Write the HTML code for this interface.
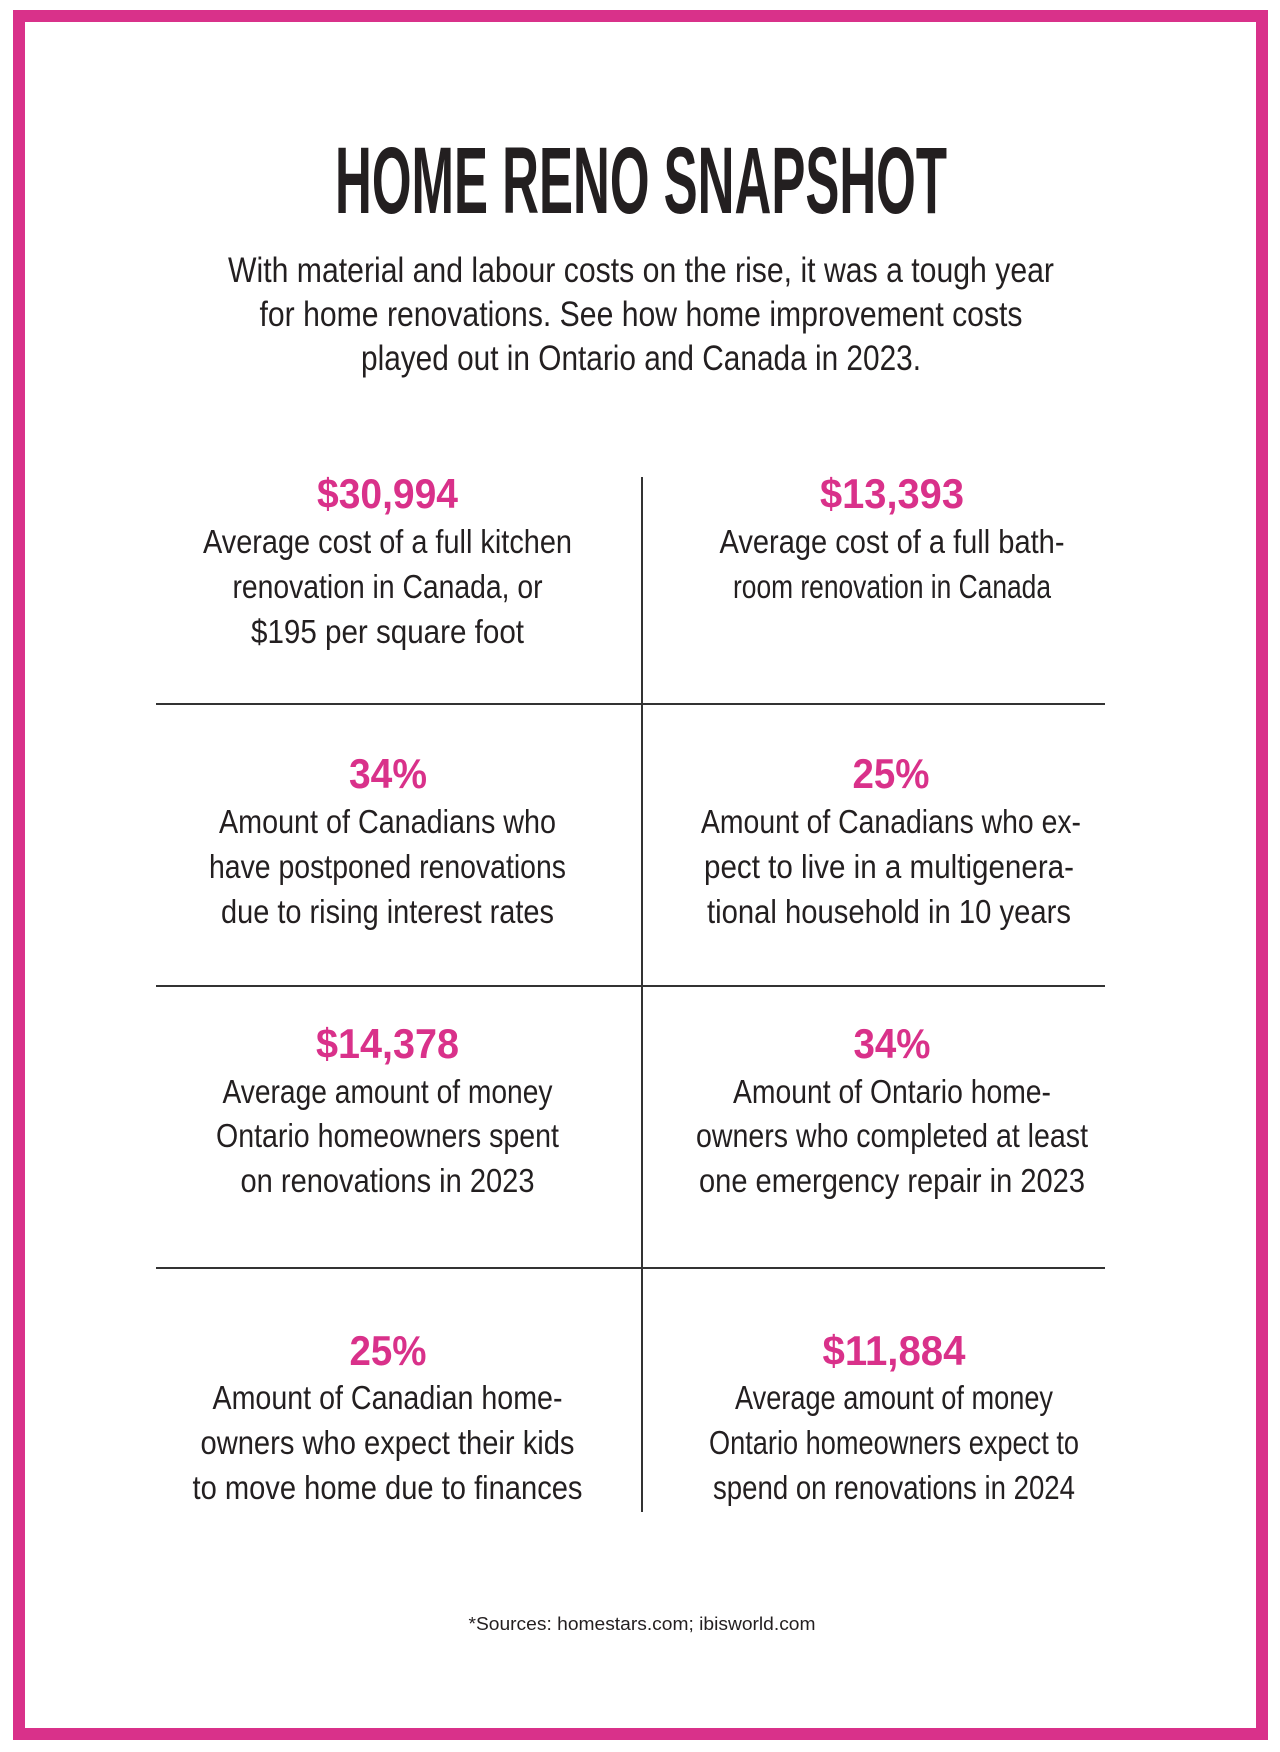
<!DOCTYPE html>
<html>
<head>
<meta charset="utf-8">
<style>
  html, body { margin: 0; padding: 0; background: #ffffff; }
  body { width: 1280px; height: 1752px; overflow: hidden; }
  svg { display: block; }
  .t { font-family: "Liberation Sans Narrow", "Liberation Sans", sans-serif; fill: #231f20; }
  .title { font-weight: bold; font-size: 95px; }
  .sub { font-size: 35px; }
  .val { font-weight: bold; font-size: 42px; fill: #d9318a; }
  .d { font-size: 33px; }
  .src { font-size: 18px; }
</style>
</head>
<body>
<svg width="1280" height="1752" viewBox="0 0 1280 1752" xmlns="http://www.w3.org/2000/svg">
  <rect x="0" y="0" width="1280" height="1752" fill="#ffffff"/>
  <!-- border -->
  <rect x="19" y="16" width="1243" height="1718" fill="none" stroke="#d9318a" stroke-width="12"/>

  <!-- title -->
  <text class="t title" x="641" y="213" text-anchor="middle" textLength="612" lengthAdjust="spacingAndGlyphs">HOME RENO SNAPSHOT</text>

  <!-- subtitle -->
  <text class="t sub" x="641" y="282" text-anchor="middle" textLength="826" lengthAdjust="spacingAndGlyphs">With material and labour costs on the rise, it was a tough year</text>
  <text class="t sub" x="641" y="326" text-anchor="middle" textLength="763" lengthAdjust="spacingAndGlyphs">for home renovations. See how home improvement costs</text>
  <text class="t sub" x="641" y="370" text-anchor="middle" textLength="560" lengthAdjust="spacingAndGlyphs">played out in Ontario and Canada in 2023.</text>

  <!-- grid lines -->
  <line x1="642" y1="477" x2="642" y2="1512" stroke="#333333" stroke-width="2"/>
  <line x1="156" y1="704" x2="1105" y2="704" stroke="#333333" stroke-width="2"/>
  <line x1="156" y1="986" x2="1105" y2="986" stroke="#333333" stroke-width="2"/>
  <line x1="156" y1="1268" x2="1105" y2="1268" stroke="#333333" stroke-width="2"/>

  <!-- Row 1 left -->
  <text class="t val" x="387.5" y="508" text-anchor="middle" textLength="141" lengthAdjust="spacingAndGlyphs">$30,994</text>
  <text class="t d" x="387.5" y="553" text-anchor="middle" textLength="369" lengthAdjust="spacingAndGlyphs">Average cost of a full kitchen</text>
  <text class="t d" x="387.5" y="598" text-anchor="middle" textLength="310" lengthAdjust="spacingAndGlyphs">renovation in Canada, or</text>
  <text class="t d" x="387.5" y="643" text-anchor="middle" textLength="273" lengthAdjust="spacingAndGlyphs">$195 per square foot</text>

  <!-- Row 1 right -->
  <text class="t val" x="892" y="508" text-anchor="middle" textLength="144" lengthAdjust="spacingAndGlyphs">$13,393</text>
  <text class="t d" x="892" y="553" text-anchor="middle" textLength="345" lengthAdjust="spacingAndGlyphs">Average cost of a full bath-</text>
  <text class="t d" x="892" y="598" text-anchor="middle" textLength="318" lengthAdjust="spacingAndGlyphs">room renovation in Canada</text>

  <!-- Row 2 left -->
  <text class="t val" x="388" y="788" text-anchor="middle" textLength="78" lengthAdjust="spacingAndGlyphs">34%</text>
  <text class="t d" x="387.5" y="833" text-anchor="middle" textLength="337" lengthAdjust="spacingAndGlyphs">Amount of Canadians who</text>
  <text class="t d" x="387.5" y="878" text-anchor="middle" textLength="357" lengthAdjust="spacingAndGlyphs">have postponed renovations</text>
  <text class="t d" x="387.5" y="923" text-anchor="middle" textLength="333" lengthAdjust="spacingAndGlyphs">due to rising interest rates</text>

  <!-- Row 2 right -->
  <text class="t val" x="891" y="788" text-anchor="middle" textLength="77" lengthAdjust="spacingAndGlyphs">25%</text>
  <text class="t d" x="891" y="833" text-anchor="middle" textLength="380" lengthAdjust="spacingAndGlyphs">Amount of Canadians who ex-</text>
  <text class="t d" x="889" y="878" text-anchor="middle" textLength="370" lengthAdjust="spacingAndGlyphs">pect to live in a multigenera-</text>
  <text class="t d" x="889" y="923" text-anchor="middle" textLength="364" lengthAdjust="spacingAndGlyphs">tional household in 10 years</text>

  <!-- Row 3 left -->
  <text class="t val" x="387.5" y="1058" text-anchor="middle" textLength="143" lengthAdjust="spacingAndGlyphs">$14,378</text>
  <text class="t d" x="387.5" y="1103" text-anchor="middle" textLength="330" lengthAdjust="spacingAndGlyphs">Average amount of money</text>
  <text class="t d" x="387.5" y="1147" text-anchor="middle" textLength="343" lengthAdjust="spacingAndGlyphs">Ontario homeowners spent</text>
  <text class="t d" x="387.5" y="1192" text-anchor="middle" textLength="294" lengthAdjust="spacingAndGlyphs">on renovations in 2023</text>

  <!-- Row 3 right -->
  <text class="t val" x="892" y="1058" text-anchor="middle" textLength="77" lengthAdjust="spacingAndGlyphs">34%</text>
  <text class="t d" x="892" y="1103" text-anchor="middle" textLength="318" lengthAdjust="spacingAndGlyphs">Amount of Ontario home-</text>
  <text class="t d" x="892" y="1147" text-anchor="middle" textLength="392" lengthAdjust="spacingAndGlyphs">owners who completed at least</text>
  <text class="t d" x="892" y="1192" text-anchor="middle" textLength="386" lengthAdjust="spacingAndGlyphs">one emergency repair in 2023</text>

  <!-- Row 4 left -->
  <text class="t val" x="388" y="1365" text-anchor="middle" textLength="77" lengthAdjust="spacingAndGlyphs">25%</text>
  <text class="t d" x="387.5" y="1409" text-anchor="middle" textLength="350" lengthAdjust="spacingAndGlyphs">Amount of Canadian home-</text>
  <text class="t d" x="387.5" y="1454" text-anchor="middle" textLength="374" lengthAdjust="spacingAndGlyphs">owners who expect their kids</text>
  <text class="t d" x="387.5" y="1499" text-anchor="middle" textLength="390" lengthAdjust="spacingAndGlyphs">to move home due to finances</text>

  <!-- Row 4 right -->
  <text class="t val" x="894" y="1365" text-anchor="middle" textLength="143" lengthAdjust="spacingAndGlyphs">$11,884</text>
  <text class="t d" x="894" y="1409" text-anchor="middle" textLength="318" lengthAdjust="spacingAndGlyphs">Average amount of money</text>
  <text class="t d" x="894" y="1454" text-anchor="middle" textLength="370" lengthAdjust="spacingAndGlyphs">Ontario homeowners expect to</text>
  <text class="t d" x="894" y="1499" text-anchor="middle" textLength="362" lengthAdjust="spacingAndGlyphs">spend on renovations in 2024</text>

  <!-- footer -->
  <text class="t src" x="642" y="1630" text-anchor="middle" textLength="347" lengthAdjust="spacingAndGlyphs">*Sources: homestars.com; ibisworld.com</text>
</svg>
</body>
</html>
